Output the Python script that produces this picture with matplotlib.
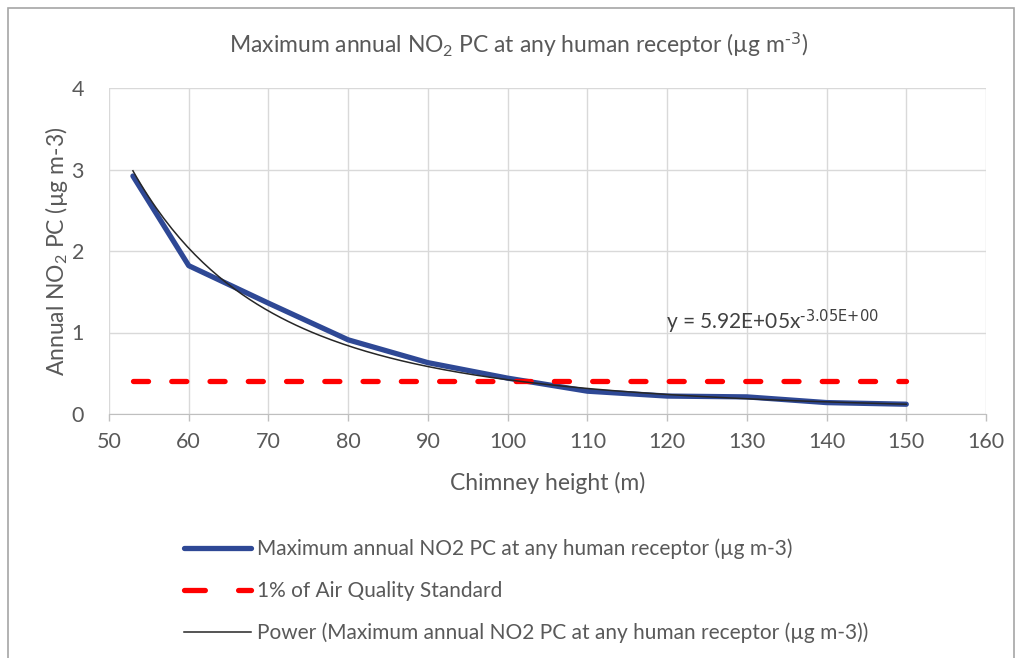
import numpy as np
import matplotlib
matplotlib.use("Agg")
import matplotlib.pyplot as plt
from matplotlib.patches import Rectangle
from matplotlib.lines import Line2D

plt.rcParams['font.family'] = ['Lato', 'DejaVu Sans']
plt.rcParams['mathtext.default'] = 'regular'

# chimney heights (m) and max annual NO2 PC (ug m-3)
heights = [53, 60, 70, 80, 90, 100, 110, 120, 130, 140, 150]
no2_pc = [2.92, 1.82, 1.36, 0.91, 0.63, 0.44, 0.28, 0.22, 0.21, 0.14, 0.12]
aqs_1pct = [0.4] * len(heights)

x_ticks = list(range(50, 161, 10))
y_ticks = [0, 1, 2, 3, 4]

grey = '#595959'
blue = '#2E4895'

fig = plt.figure(figsize=(10.21, 6.58), dpi=100)
ax = fig.add_axes([109 / 1021, 1 - 414 / 658, 877 / 1021, 326 / 658])

# power trendline fitted to the data (log-log)
b, log_a = np.polyfit(np.log(heights), np.log(no2_pc), 1)
xs = np.linspace(heights[0], heights[-1], 200)
trend = np.exp(log_a) * xs ** b

ax.plot(heights, no2_pc, color=blue, lw=3.8, solid_capstyle='round',
        solid_joinstyle='round', zorder=3)
ax.plot(heights, aqs_1pct, color='#FF0000', lw=3.8, dashes=(2.85, 4.4),
        dash_capstyle='round', zorder=3)
ax.plot(xs, trend, color='#262626', lw=1.1, zorder=4)

ax.set_xlim(50, 160)
ax.set_ylim(0, 4)
ax.set_xticks(x_ticks)
ax.set_yticks(y_ticks)
ax.grid(True, color='#D9D9D9', lw=1.0)
ax.set_axisbelow(True)
for s in ['top', 'right', 'left']:
    ax.spines[s].set_visible(False)
ax.spines['bottom'].set_color('#BFBFBF')
ax.tick_params(axis='x', colors='#BFBFBF', length=5, width=1, labelcolor=grey,
               labelsize=15.5, pad=8)
ax.tick_params(axis='y', length=0, labelcolor=grey, labelsize=15.5, pad=18)

ax.text(119.9, 1.13, r'y = 5.92E+05x$^{\text{-3.05E+00}}$', fontsize=15,
        color='#404040', va='center', ha='left')

ax.set_xlabel('Chimney height (m)', fontsize=16.5, color=grey, labelpad=14)
fig.text(57 / 1021, 1 - 251 / 658, 'Annual NO$_2$ PC (µg m-3)', rotation=90,
         fontsize=16.5, color=grey, ha='center', va='center')
fig.text(0.508, 1 - 45 / 658,
         r'Maximum annual NO$_2$ PC at any human receptor (µg m$^{\text{-3}}$)',
         fontsize=16.5, color=grey, ha='center', va='center')

handles = [
    Line2D([], [], color=blue, lw=3.8, solid_capstyle='round'),
    Line2D([], [], color='#FF0000', lw=3.8, dashes=(3.95, 6.3), dash_capstyle='round'),
    Line2D([], [], color='#262626', lw=1.1),
]
labels = [
    'Maximum annual NO2 PC at any human receptor (µg m-3)',
    '1% of Air Quality Standard',
    'Power (Maximum annual NO2 PC at any human receptor (µg m-3))',
]
fig.legend(handles, labels, loc='upper left', bbox_to_anchor=(176 / 1021, 1 - 530 / 658),
           frameon=False, fontsize=15, labelcolor=grey, handlelength=3.2,
           handletextpad=0.3, labelspacing=1.05, borderaxespad=0)

fig.patches.append(Rectangle((8 / 1021, -0.1), 1006 / 1021, 1.1 - 8 / 658,
                             transform=fig.transFigure, fill=False,
                             edgecolor='#A6A6A6', lw=1.2))

fig.savefig('out.png', dpi=100)
